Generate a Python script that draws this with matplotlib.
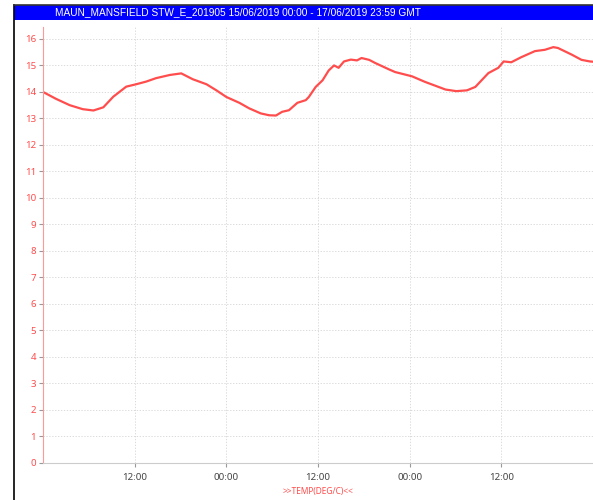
import matplotlib
matplotlib.use("Agg")
import matplotlib.pyplot as plt
from matplotlib.patches import Rectangle
from matplotlib.lines import Line2D

TITLE = "MAUN_MANSFIELD STW_E_201905 15/06/2019 00:00 - 17/06/2019 23:59 GMT"
YLABEL_TXT = ">>TEMP(DEG/C)<<"

# hours since 15/06/2019 00:00
hours = [0, 1.7, 3.5, 5.2, 6.6, 7.9, 9.2, 10.9, 12.2, 13.5, 14.8, 16.6, 18.1,
         19.6, 21.4, 22.7, 24.0, 25.7, 27.0, 28.5, 29.6, 30.5, 31.3, 32.2,
         33.3, 34.4, 34.8, 35.7, 36.6, 37.4, 38.1, 38.7, 39.4, 40.3, 41.1,
         41.7, 42.7, 43.5, 45.3, 46.1, 48.3, 50.0, 52.7, 54.1, 55.5, 56.6,
         58.3, 59.6, 60.3, 61.3, 62.6, 64.4, 65.7, 66.8, 67.4, 69.2, 70.5,
         71.6, 72.0]
temp = [14.0, 13.74, 13.5, 13.35, 13.3, 13.42, 13.82, 14.2, 14.29, 14.39,
        14.52, 14.64, 14.70, 14.48, 14.29, 14.06, 13.81, 13.59, 13.38, 13.19,
        13.12, 13.11, 13.25, 13.31, 13.59, 13.69, 13.81, 14.19, 14.44, 14.81,
        15.0, 14.91, 15.15, 15.22, 15.19, 15.28, 15.21, 15.09, 14.85, 14.75,
        14.59, 14.38, 14.09, 14.03, 14.06, 14.19, 14.71, 14.91, 15.15, 15.12,
        15.31, 15.54, 15.59, 15.69, 15.66, 15.41, 15.21, 15.15, 15.14]

xtick_pos = [12, 24, 36, 48, 60]
xtick_lab = ["12:00", "00:00", "12:00", "00:00", "12:00"]
ytick_pos = list(range(0, 17))

RED = "#ff4d4d"

plt.rcParams["font.family"] = ["Noto Sans", "DejaVu Sans"]

fig = plt.figure(figsize=(5.93, 5.0), dpi=100)
W, H = 593, 500

# outer frame + blue title bar
fig.add_artist(Line2D([14 / W, 14 / W], [0, 1 - 5 / H], color="black", lw=1.2,
                      transform=fig.transFigure))
fig.add_artist(Line2D([14 / W, 1], [1 - 5 / H, 1 - 5 / H], color="#333333", lw=1.2,
                      transform=fig.transFigure))
fig.add_artist(Rectangle((14 / W, 1 - 20 / H), 1 - 14 / W, 15 / H, color="#0000ff",
                         transform=fig.transFigure, lw=0))
fig.text(55 / W, 1 - 12.5 / H, TITLE, color="white", fontsize=7.3,
         family="Liberation Sans", va="center", ha="left")

ax = fig.add_axes([43 / W, 37 / H, 1 - 43 / W, (463 - 27) / H])
ax.plot(hours, temp, color=RED, lw=1.6, solid_joinstyle="round")

ax.set_xlim(0, 72)
ax.set_ylim(0, 16.45)
ax.set_xticks(xtick_pos)
ax.set_xticklabels(xtick_lab)
ax.set_yticks(ytick_pos)

ax.grid(True, color="#d4d4d4", ls=(0, (1.5, 2)), lw=0.6)
ax.tick_params(axis="y", colors="#999999", labelcolor=RED, labelsize=7,
               length=3, width=0.8, pad=2)
ax.tick_params(axis="x", colors="#999999", labelcolor="#444444", labelsize=7,
               length=3, width=0.8, pad=4)

for s in ("top", "right"):
    ax.spines[s].set_visible(False)
ax.spines["left"].set_color("#ff9999")
ax.spines["bottom"].set_color("#cccccc")

ax.set_xlabel(YLABEL_TXT, color=RED, fontsize=6, labelpad=4)

fig.savefig("out.png", dpi=100)
